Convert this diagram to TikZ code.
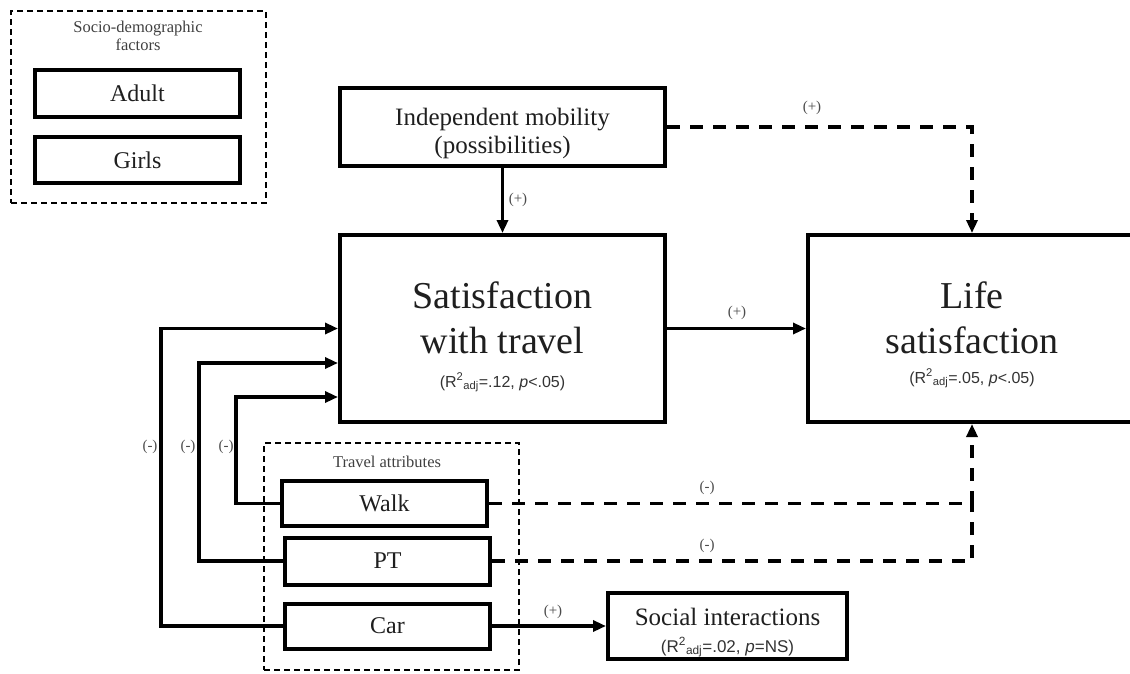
\documentclass[tikz,border=0pt]{standalone}
\usepackage{fontspec}
\setmainfont{Liberation Serif}
\newfontfamily\statfont{Liberation Sans}
\usetikzlibrary{arrows.meta,calc}
\begin{document}
\begin{tikzpicture}[x=1pt,y=-1pt,
  box/.style={draw=black, line width=4pt, fill=white, inner sep=0pt, font=\fontsize{24}{28}\selectfont, text=black!88, align=center},
  grp/.style={draw=black, line width=2pt, dash pattern=on 6pt off 4pt, inner sep=0pt},
  tip/.style={-{Triangle[length=13pt,width=11pt]}},
  conn/.style={line width=3.2pt},
  dconn/.style={line width=3.5pt, dash pattern=on 13pt off 10pt},
  lab/.style={font=\fontsize{15}{15}\selectfont, text=black!70, inner sep=0pt},
  ttl/.style={font=\fontsize{16.5}{18}\selectfont, text=black!75, anchor=base, inner sep=0pt},
  big/.style={font=\fontsize{38}{38}\selectfont, text=black!88, anchor=base, inner sep=0pt},
  mid/.style={font=\fontsize{25}{25}\selectfont, text=black!88, anchor=base, inner sep=0pt},
  stat/.style={font=\statfont\fontsize{16}{16}\selectfont, text=black!80, anchor=base, inner sep=0pt}
]
\useasboundingbox (0,0) rectangle (1130,673);
\clip (0,0) rectangle (1130,673);

% group frames
\node[grp, minimum width=255pt, minimum height=192pt] (socio) at (138.5,107) {};
\node[ttl] (sociot1) at (138,32) {Socio-demographic};
\node[ttl] (sociot2) at (138,50) {factors};
\node[grp, minimum width=255pt, minimum height=227pt] (travel) at (391.5,556.5) {};
\node[ttl] (travelt) at (387,467) {Travel attributes};

% boxes
\node[box, minimum width=205pt, minimum height=47pt] (adult) at (137.5,93.5) {Adult};
\node[box, minimum width=205pt, minimum height=46pt] (girls) at (137.5,160) {Girls};
\node[box, minimum width=325pt, minimum height=78pt] (indep) at (502.5,127) {};
\node[mid] (indept1) at (502.5,125) {Independent mobility};
\node[mid] (indept2) at (502.5,153) {(possibilities)};
\node[box, minimum width=325pt, minimum height=187pt] (sat) at (502.5,328.5) {};
\node[box, minimum width=328pt, minimum height=187pt] (life) at (972,328.5) {};
\node[box, minimum width=205pt, minimum height=45pt] (walk) at (384.5,503.5) {Walk};
\node[box, minimum width=205pt, minimum height=47pt] (pt) at (387.5,561) {PT};
\node[box, minimum width=205pt, minimum height=45pt] (car) at (387.5,626) {Car};
\node[box, minimum width=239pt, minimum height=66pt] (social) at (727.5,626) {};

% texts in large boxes
\node[big] (satA) at (502.5,308) {Satisfaction};
\node[big] (satB) at (502.5,353) {with travel};
\node[stat] (satC) at (502.5,387) {(R\textsuperscript{2}\textsubscript{adj}=.12, \textit{p}<.05)};
\node[big] (lifeA) at (972,308) {Life};
\node[big] (lifeB) at (972,353) {satisfaction};
\node[stat] (lifeC) at (972,383) {(R\textsuperscript{2}\textsubscript{adj}=.05, \textit{p}<.05)};
\node[mid] (socA) at (727.5,625) {Social interactions};
\node[stat, font=\statfont\fontsize{17}{17}\selectfont] (socB) at (727.5,652) {(R\textsuperscript{2}\textsubscript{adj}=.02, \textit{p}=NS)};

% connectors
\draw[conn, tip] (indep.south) -- (sat.north);
\draw[conn, tip] (sat.east) -- (life.west);
\draw[dconn, tip] (indep.east) -| (life.north);
\coordinate (j) at (life.south |- walk.east);
\draw[dconn, tip] (walk.east) -- (j) -- (life.south);
\draw[dconn] (pt.east) -| (j);
\draw[conn, tip] (car.west) -- ++(-122,0) |- (sat.west);
\draw[conn, tip] (pt.west) -- ++(-84,0) |- ($(sat.west)+(0,34.5)$);
\draw[conn, tip] (walk.west) -- ++(-44,0) |- ($(sat.west)+(0,68.5)$);
\draw[conn, tip] (car.east) -- (social.west);

% labels
\node[lab] (l1) at (518,200) {(+)};
\node[lab] (l2) at (737,313) {(+)};
\node[lab] (l3) at (812,108) {(+)};
\node[lab] (l4) at (150,447) {(-)};
\node[lab] (l5) at (188,447) {(-)};
\node[lab] (l6) at (226,447) {(-)};
\node[lab] (l7) at (707,488) {(-)};
\node[lab] (l8) at (707,546) {(-)};
\node[lab] (l9) at (553,612) {(+)};
\end{tikzpicture}
\end{document}
